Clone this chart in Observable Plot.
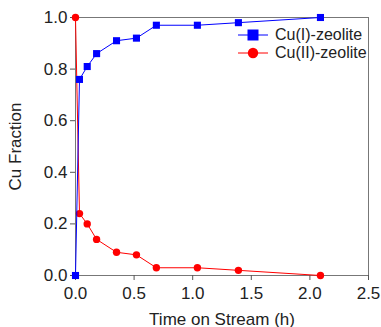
<!DOCTYPE html>
<html>
<head>
<meta charset="utf-8">
<script src="https://cdn.jsdelivr.net/npm/d3@7"></script>
<script src="https://cdn.jsdelivr.net/npm/@observablehq/plot@0.6"></script>
<style>
  html, body { margin: 0; padding: 0; background: #fff; }
  #wrap { position: relative; width: 381px; height: 327px; font-family: "Liberation Sans", Arial, sans-serif; }
  #legend { position: absolute; left: 238px; top: 26px; font-size: 16px; color: #222; line-height: 18px; }
  #legend div { display: flex; align-items: center; height: 18px; }
  #legend svg { margin-right: 7px; }
</style>
</head>
<body>
<div id="wrap"></div>
<script>
const seriesNames = ["Cu(I)-zeolite", "Cu(II)-zeolite"];
const seriesColors = ["#0000ff", "#ff0000"];
const times = [0, 0.034, 0.10, 0.18, 0.35, 0.52, 0.69, 1.04, 1.39, 2.09];
const cu1Values = [0, 0.76, 0.81, 0.86, 0.91, 0.92, 0.97, 0.97, 0.98, 1.0];
const cu2Values = [1.0, 0.24, 0.20, 0.14, 0.09, 0.08, 0.03, 0.03, 0.02, 0.0];
const xTicks = [0, 0.5, 1.0, 1.5, 2.0, 2.5];
const yTicks = [0, 0.2, 0.4, 0.6, 0.8, 1.0];

const cu1 = times.map((t, i) => ({t, v: cu1Values[i], s: seriesNames[0]}));
const cu2 = times.map((t, i) => ({t, v: cu2Values[i], s: seriesNames[1]}));

const chart = Plot.plot({
  width: 381,
  height: 327,
  marginLeft: 75,
  marginTop: 17,
  marginRight: 13,
  marginBottom: 52,
  style: {fontFamily: "Liberation Sans, Arial, sans-serif", fontSize: "16px", color: "#222", background: "white", overflow: "visible"},
  x: {domain: [0, 2.5]},
  y: {domain: [0, 1]},
  marks: [
    Plot.frame({stroke: "#777", strokeWidth: 1}),
    Plot.axisX({ticks: xTicks, tickFormat: d3.format(".1f"), tickSize: 5, tickPadding: 6, stroke: "#555", fontSize: 17,
      label: "Time on Stream (h)", labelAnchor: "center", labelArrow: "none", labelOffset: 49}),
    Plot.axisY({ticks: yTicks, tickFormat: d3.format(".1f"), tickSize: 5, tickPadding: 3, stroke: "#555", fontSize: 17,
      label: "Cu Fraction", labelAnchor: "center", labelArrow: "none", labelOffset: 67}),
    Plot.lineY(cu2, {x: "t", y: "v", stroke: seriesColors[1], strokeWidth: 1}),
    Plot.dot(cu2, {x: "t", y: "v", r: 3.7, fill: seriesColors[1], stroke: "none", symbol: "circle"}),
    Plot.lineY(cu1, {x: "t", y: "v", stroke: seriesColors[0], strokeWidth: 1}),
    Plot.dot(cu1, {x: "t", y: "v", r: 4, fill: seriesColors[0], stroke: "none", symbol: "square"})
  ]
});
const wrap = document.getElementById("wrap");
wrap.appendChild(chart);

const legend = document.createElement("div");
legend.id = "legend";
seriesNames.forEach((name, i) => {
  const row = document.createElement("div");
  const sym = i === 0
    ? `<rect x="9.5" y="3.5" width="11" height="11" fill="${seriesColors[i]}"/>`
    : `<circle cx="15" cy="9" r="5.2" fill="${seriesColors[i]}"/>`;
  row.innerHTML = `<svg width="30" height="18"><line x1="0" x2="30" y1="9" y2="9" stroke="${seriesColors[i]}" stroke-width="1"/>${sym}</svg><span>${name}</span>`;
  legend.appendChild(row);
});
wrap.appendChild(legend);
</script>
</body>
</html>
